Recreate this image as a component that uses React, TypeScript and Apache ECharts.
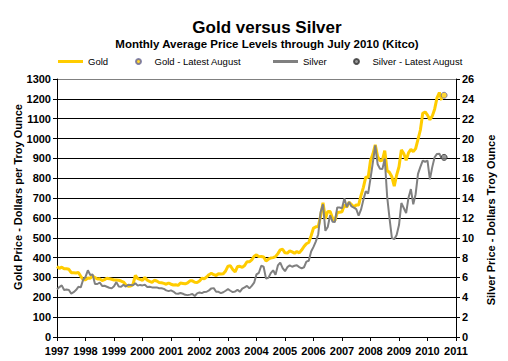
import { useEffect, useRef } from "react";
import * as echarts from "echarts";

const START_YEAR = 1997;

// Monthly average gold price (USD/oz), Jan 1997 .. Jul 2010
const goldPrices = [
  355, 346, 352, 344, 344, 341, 324, 324, 323, 325, 306, 289,
  289, 297, 296, 308, 299, 292, 293, 284, 289, 296, 294, 291,
  287, 287, 286, 282, 277, 262, 256, 257, 265, 311, 294, 290,
  285, 300, 286, 280, 275, 286, 282, 275, 273, 270, 266, 272,
  266, 262, 263, 260, 272, 270, 268, 273, 283, 283, 276, 275,
  282, 296, 294, 302, 314, 321, 314, 310, 319, 317, 319, 333,
  357, 359, 340, 328, 355, 356, 351, 360, 379, 379, 389, 407,
  414, 405, 406, 403, 383, 392, 398, 400, 405, 420, 439, 442,
  424, 423, 434, 429, 422, 431, 424, 438, 456, 470, 476, 510,
  549, 555, 557, 610, 676, 596, 633, 632, 599, 586, 627, 629,
  631, 665, 655, 679, 667, 655, 665, 665, 712, 754, 806, 803,
  889, 922, 968, 909, 888, 890, 939, 839, 829, 807, 760, 816,
  858, 943, 924, 890, 928, 946, 934, 949, 996, 1043, 1127, 1134,
  1118, 1095, 1113, 1148, 1205, 1232, 1193,
];

// Monthly average silver price (USD/oz), Jan 1997 .. Jul 2010
const silverPrices = [
  4.80, 5.03, 5.20, 4.74, 4.78, 4.73, 4.37, 4.52, 4.73, 5.06, 5.00, 5.77,
  6.06, 6.72, 6.25, 6.29, 5.33, 5.34, 5.49, 5.15, 5.16, 5.06, 4.96, 4.90,
  5.12, 5.53, 5.09, 5.07, 5.26, 5.08, 5.27, 5.24, 5.21, 5.41, 5.18, 5.25,
  5.20, 5.26, 5.05, 5.07, 5.00, 4.99, 5.00, 4.92, 4.92, 4.85, 4.70, 4.62,
  4.70, 4.58, 4.39, 4.36, 4.44, 4.36, 4.25, 4.22, 4.27, 4.33, 4.13, 4.39,
  4.49, 4.42, 4.54, 4.56, 4.70, 4.90, 4.92, 4.56, 4.55, 4.42, 4.51, 4.66,
  4.82, 4.66, 4.52, 4.58, 4.77, 4.55, 4.87, 5.00, 5.15, 4.90, 5.15, 5.47,
  6.31, 6.47, 7.18, 7.08, 5.88, 5.96, 6.44, 6.72, 6.28, 7.21, 7.50, 6.95,
  6.63, 7.04, 7.22, 7.08, 7.18, 7.23, 7.04, 6.91, 7.03, 7.60, 7.69, 8.62,
  9.08, 9.64, 10.36, 12.60, 13.38, 10.70, 11.09, 12.27, 11.62, 11.59, 13.06, 13.05,
  12.98, 13.97, 13.10, 13.60, 13.16, 13.04, 12.88, 12.22, 12.83, 13.82, 14.68, 14.45,
  15.98, 17.59, 19.31, 17.41, 16.95, 16.92, 17.97, 14.18, 11.97, 9.98, 9.86, 10.29,
  11.28, 13.50, 13.00, 12.48, 14.04, 14.91, 13.37, 14.39, 16.44, 17.14, 17.77, 17.66,
  17.77, 15.88, 17.12, 18.11, 18.45, 18.46, 17.98,
];

// Latest August 2010 values (month index from Jan 1997)
const latestMonthIndex = 163;
const goldLatestAugust = [1218];
const silverLatestAugust = [18.1];

const yearTicks = [1997, 2011];
const goldAxisRange = [0, 1300, 100];
const silverAxisRange = [0, 26, 2];

const toX = (i: number) => START_YEAR + i / 12;

export default function App() {
  const ref = useRef<HTMLDivElement>(null);

  useEffect(() => {
    if (!ref.current) return;
    const chart = echarts.init(ref.current, undefined, { renderer: "svg" });
    const font = "'Liberation Sans', Arial, sans-serif";
    const goldData = goldPrices.map((v, i) => [toX(i), v]);
    const silverData = silverPrices.map((v, i) => [toX(i), v]);
    const splitColors: string[] = [];
    for (let v = goldAxisRange[0]; v <= goldAxisRange[1]; v += goldAxisRange[2]) {
      splitColors.push(v === goldAxisRange[1] ? "#808080" : "#000000");
    }
    const legendText = { fontFamily: font, fontSize: 9.5, color: "#000" };
    const tickLabel = {
      formatter: (v: number) => String(v),
      fontFamily: font,
      fontSize: 11,
      lineHeight: 11,
      fontWeight: "bold",
      color: "#000",
    };

    chart.setOption({
      animation: false,
      backgroundColor: "#ffffff",
      textStyle: { fontFamily: font },
      title: [
        {
          text: "Gold versus Silver",
          left: 267,
          textAlign: "center",
          top: 19,
          padding: 0,
          textStyle: { fontFamily: font, fontSize: 17, fontWeight: "bold", color: "#000" },
        },
        {
          text: "Monthly Average Price Levels through July 2010 (Kitco)",
          left: 267,
          textAlign: "center",
          top: 38,
          padding: 0,
          textStyle: { fontFamily: font, fontSize: 11.5, fontWeight: "bold", color: "#000" },
        },
      ],
      legend: [
        {
          data: [{ name: "Gold", icon: "rect" }],
          left: 58, top: 56.5, padding: 0, itemWidth: 25, itemHeight: 3, textStyle: legendText,
        },
        {
          data: ["Gold - Latest August"],
          left: 135, top: 56.5, padding: 0, itemWidth: 22, itemHeight: 5, textStyle: legendText,
        },
        {
          data: [{ name: "Silver", icon: "rect" }],
          left: 273, top: 56.5, padding: 0, itemWidth: 25, itemHeight: 3, textStyle: legendText,
        },
        {
          data: ["Silver - Latest August"],
          left: 353, top: 56.5, padding: 0, itemWidth: 22, itemHeight: 5, textStyle: legendText,
        },
      ],
      grid: { left: 57, top: 79, width: 399, height: 258, containLabel: false },
      xAxis: {
        type: "value",
        min: yearTicks[0],
        max: yearTicks[1],
        interval: 1,
        axisLine: { lineStyle: { color: "#000", width: 1 } },
        axisTick: { show: true, length: 4, lineStyle: { color: "#000" } },
        axisLabel: { ...tickLabel, margin: 8 },
        splitLine: { show: false },
      },
      yAxis: [
        {
          type: "value",
          min: goldAxisRange[0],
          max: goldAxisRange[1],
          interval: goldAxisRange[2],
          axisLine: { show: true, lineStyle: { color: "#000", width: 1 } },
          axisTick: { show: true, length: 4, lineStyle: { color: "#000" } },
          axisLabel: { ...tickLabel, margin: 6 },
          splitLine: { show: true, lineStyle: { color: splitColors, width: 1 } },
        },
        {
          type: "value",
          position: "right",
          min: silverAxisRange[0],
          max: silverAxisRange[1],
          interval: silverAxisRange[2],
          axisLine: { show: true, lineStyle: { color: "#000", width: 1 } },
          axisTick: { show: true, length: 4, lineStyle: { color: "#000" } },
          axisLabel: { ...tickLabel, margin: 6 },
          splitLine: { show: false },
        },
      ],
      graphic: [
        {
          type: "text",
          x: 18,
          y: 197,
          rotation: Math.PI / 2,
          style: {
            text: "Gold Price - Dollars per Troy Ounce",
            fontFamily: font,
            fontSize: 11,
            fontWeight: "bold",
            fill: "#000",
            align: "center",
            verticalAlign: "middle",
          },
        },
        {
          type: "text",
          x: 491,
          y: 220,
          rotation: Math.PI / 2,
          style: {
            text: "Silver Price - Dollars Troy Ounce",
            fontFamily: font,
            fontSize: 11,
            fontWeight: "bold",
            fill: "#000",
            align: "center",
            verticalAlign: "middle",
          },
        },
      ],
      series: [
        {
          name: "Gold",
          type: "line",
          yAxisIndex: 0,
          data: goldData,
          symbol: "none",
          lineStyle: { color: "#FFCC00", width: 3 },
          itemStyle: { color: "#FFCC00" },
          z: 2,
        },
        {
          name: "Gold - Latest August",
          type: "scatter",
          yAxisIndex: 0,
          data: goldLatestAugust.map((v) => [toX(latestMonthIndex), v]),
          symbol: "circle",
          symbolSize: 6,
          itemStyle: { color: "#FFCC00", borderColor: "#666699", borderWidth: 1 },
          z: 4,
        },
        {
          name: "Silver",
          type: "line",
          yAxisIndex: 1,
          data: silverData,
          symbol: "none",
          lineStyle: { color: "#808080", width: 2 },
          itemStyle: { color: "#808080" },
          z: 3,
        },
        {
          name: "Silver - Latest August",
          type: "scatter",
          yAxisIndex: 1,
          data: silverLatestAugust.map((v) => [toX(latestMonthIndex), v]),
          symbol: "circle",
          symbolSize: 6,
          itemStyle: { color: "#808080", borderColor: "#333333", borderWidth: 1 },
          z: 4,
        },
      ],
    });
    return () => chart.dispose();
  }, []);

  return (
    <div
      ref={ref}
      style={{ position: "fixed", left: 0, top: 0, width: 508, height: 361 }}
    />
  );
}
